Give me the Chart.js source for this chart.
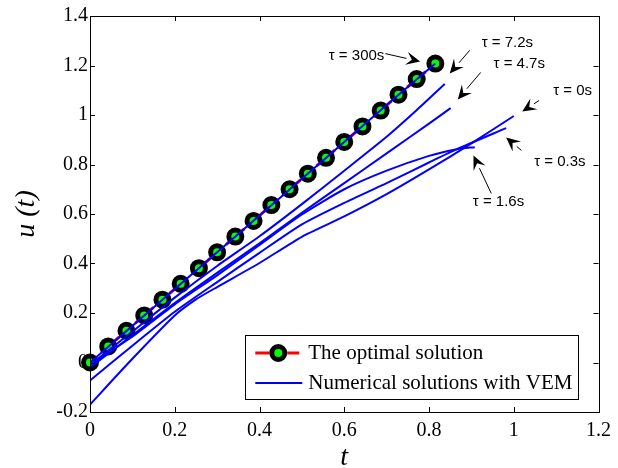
<!DOCTYPE html>
<html><head><meta charset="utf-8">
<script src="https://cdn.jsdelivr.net/npm/chart.js@4.4.0/dist/chart.umd.min.js"></script>
<style>html,body{margin:0;padding:0;background:#fff}</style>
</head><body>
<canvas id="c" width="618" height="468"></canvas>
<script>
// ---- data ----
const optT = [0, 0.043, 0.086, 0.128, 0.171, 0.214, 0.257, 0.3, 0.343, 0.386, 0.428, 0.471, 0.514, 0.557, 0.6, 0.643, 0.686, 0.728, 0.771, 0.815];
const optU = [0, 0.065, 0.128, 0.19, 0.254, 0.318, 0.381, 0.445, 0.509, 0.572, 0.636, 0.7, 0.763, 0.827, 0.891, 0.954, 1.018, 1.082, 1.145, 1.208];

const tau300T = [0, 0.1, 0.2, 0.3, 0.4, 0.5, 0.6, 0.7, 0.815];
const tau300U = [0, 0.148, 0.297, 0.445, 0.594, 0.742, 0.891, 1.04, 1.208];

const tau72T = [0, 0.1, 0.2, 0.3, 0.4, 0.5, 0.6, 0.7, 0.77, 0.837];
const tau72U = [-0.01, 0.125, 0.262, 0.39, 0.51, 0.64, 0.775, 0.912, 1.018, 1.125];

const tau47T = [0, 0.1, 0.2, 0.3, 0.4, 0.5, 0.6, 0.7, 0.8, 0.851];
const tau47U = [-0.02, 0.11, 0.24, 0.362, 0.482, 0.605, 0.725, 0.845, 0.965, 1.028];

const tau16T = [0, 0.1, 0.2, 0.3, 0.4, 0.5, 0.6, 0.7, 0.8, 0.866, 0.908];
const tau16U = [-0.01, 0.105, 0.235, 0.352, 0.475, 0.598, 0.7, 0.775, 0.835, 0.862, 0.87];

const tau03T = [0, 0.1, 0.2, 0.3, 0.4, 0.5, 0.6, 0.7, 0.8, 0.866, 0.982];
const tau03U = [-0.073, 0.068, 0.205, 0.325, 0.443, 0.558, 0.645, 0.725, 0.808, 0.862, 0.947];

const tau0T = [0, 0.1, 0.2, 0.25, 0.3, 0.4, 0.5, 0.6, 0.7, 0.8, 0.9, 1.0];
const tau0U = [-0.17, 0.015, 0.19, 0.255, 0.305, 0.402, 0.508, 0.59, 0.68, 0.78, 0.885, 0.996];

const xTicks = [0, 0.2, 0.4, 0.6, 0.8, 1, 1.2];
const yTicks = [-0.2, 0, 0.2, 0.4, 0.6, 0.8, 1, 1.2, 1.4];

const legendLabels = ['The optimal solution', 'Numerical solutions with VEM'];

// annotation labels: text, label centre (t,u), arrow start (t,u), arrow tip (t,u)
const notes = [
  ['\u03c4 = 300s', 0.629, 1.240, 0.697, 1.248, 0.779, 1.216],
  ['\u03c4 = 7.2s', 0.985, 1.293, 0.896, 1.261, 0.849, 1.168],
  ['\u03c4 = 4.7s', 1.013, 1.208, 0.922, 1.172, 0.868, 1.063],
  ['\u03c4 = 0s', 1.139, 1.099, 1.060, 1.059, 1.020, 1.014],
  ['\u03c4 = 0.3s', 1.109, 0.812, 1.018, 0.857, 0.982, 0.909],
  ['\u03c4 = 1.6s', 0.964, 0.651, 0.947, 0.683, 0.905, 0.836]
];

const pts = (T, U) => T.map((t, i) => ({x: t, y: U[i]}));
const blue = (T, U) => ({data: pts(T, U), borderColor: '#0000ff', borderWidth: 2, pointRadius: 0, fill: false, tension: 0.2, order: 1});

const SERIF = "'Liberation Serif', 'Times New Roman', serif";
const SANS = "'Liberation Sans', Arial, sans-serif";
Chart.defaults.font.family = SERIF;

const framePlugin = {
  id: 'frame',
  afterDatasetsDraw(chart) {
    const {ctx, chartArea: a, scales: {x, y}} = chart;
    ctx.save();
    ctx.strokeStyle = '#000';
    ctx.lineWidth = 1;
    ctx.beginPath();
    const L = 5;
    xTicks.forEach(v => {
      const px = Math.round(x.getPixelForValue(v)) + 0.5;
      ctx.moveTo(px, a.bottom); ctx.lineTo(px, a.bottom - L);
      ctx.moveTo(px, a.top); ctx.lineTo(px, a.top + L);
    });
    yTicks.forEach(v => {
      const py = Math.round(y.getPixelForValue(v)) + 0.5;
      ctx.moveTo(a.left, py); ctx.lineTo(a.left + L, py);
      ctx.moveTo(a.right, py); ctx.lineTo(a.right - L, py);
    });
    ctx.stroke();
    ctx.strokeRect(Math.round(a.left) + 0.5, Math.round(a.top) + 0.5, Math.round(a.right - a.left), Math.round(a.bottom - a.top));
    ctx.restore();
  },
  afterDraw(chart) {
    const {ctx, chartArea: a, scales: {x, y}} = chart;
    ctx.save();
    // annotations
    ctx.font = '15px ' + SANS;
    ctx.fillStyle = '#000';
    ctx.strokeStyle = '#000';
    ctx.textAlign = 'center';
    ctx.textBaseline = 'middle';
    notes.forEach(n => {
      ctx.fillText(n[0], x.getPixelForValue(n[1]), y.getPixelForValue(n[2]));
      const x0 = x.getPixelForValue(n[3]), y0 = y.getPixelForValue(n[4]);
      const x1 = x.getPixelForValue(n[5]), y1 = y.getPixelForValue(n[6]);
      const ang = Math.atan2(y1 - y0, x1 - x0);
      const hl = 14, hw = 6.5;
      const bx = x1 - hl * Math.cos(ang), by = y1 - hl * Math.sin(ang);
      ctx.lineWidth = 1;
      ctx.beginPath(); ctx.moveTo(x0, y0); ctx.lineTo(bx, by); ctx.stroke();
      ctx.beginPath();
      ctx.moveTo(x1, y1);
      ctx.lineTo(bx + hw * Math.sin(ang), by - hw * Math.cos(ang));
      ctx.lineTo(x1 - hl * 0.6 * Math.cos(ang), y1 - hl * 0.6 * Math.sin(ang));
      ctx.lineTo(bx - hw * Math.sin(ang), by + hw * Math.cos(ang));
      ctx.closePath(); ctx.fill();
    });
    // legend
    ctx.font = '21px ' + SERIF;
    const tw = Math.max(...legendLabels.map(s => ctx.measureText(s).width));
    const boxR = a.right - 20, boxB = a.bottom - 13;
    const boxW = 63 + tw + 6, boxH = 64;
    const boxL = boxR - boxW, boxT = boxB - boxH;
    ctx.fillStyle = '#fff';
    ctx.fillRect(boxL, boxT, boxW, boxH);
    ctx.strokeStyle = '#000'; ctx.lineWidth = 1;
    ctx.strokeRect(Math.round(boxL) + 0.5, Math.round(boxT) + 0.5, Math.round(boxW), Math.round(boxH));
    const r1 = boxT + 18, r2 = boxT + 48;
    // red dashed sample with marker
    ctx.strokeStyle = '#ff0000'; ctx.lineWidth = 3;
    ctx.beginPath(); ctx.moveTo(boxL + 10, r1); ctx.lineTo(boxL + 24, r1);
    ctx.moveTo(boxL + 42, r1); ctx.lineTo(boxL + 54, r1); ctx.stroke();
    ctx.beginPath(); ctx.arc(boxL + 33, r1, 6.5, 0, Math.PI * 2);
    ctx.fillStyle = '#00ff00'; ctx.fill();
    ctx.strokeStyle = '#000'; ctx.lineWidth = 5; ctx.stroke();
    // blue sample
    ctx.strokeStyle = '#0000ff'; ctx.lineWidth = 2;
    ctx.beginPath(); ctx.moveTo(boxL + 10, r2); ctx.lineTo(boxL + 57, r2); ctx.stroke();
    ctx.fillStyle = '#000';
    ctx.textAlign = 'left'; ctx.textBaseline = 'middle';
    ctx.fillText(legendLabels[0], boxL + 63, r1);
    ctx.fillText(legendLabels[1], boxL + 63, r2);
    ctx.restore();
  }
};

new Chart(document.getElementById('c'), {
  type: 'line',
  data: {
    datasets: [
      {data: pts(optT, optU), borderColor: '#ff0000', borderWidth: 3, borderDash: [9, 6],
       pointRadius: 6.5, pointBorderWidth: 5, pointBorderColor: '#000', pointBackgroundColor: '#00ff00',
       fill: false, tension: 0, order: 10, clip: false},
      blue(tau300T, tau300U),
      blue(tau72T, tau72U),
      blue(tau47T, tau47U),
      blue(tau16T, tau16U),
      blue(tau03T, tau03U),
      blue(tau0T, tau0U)
    ]
  },
  options: {
    responsive: false,
    devicePixelRatio: 1,
    animation: false,
    events: [],
    layout: {padding: {left: 0, right: 15, top: 16, bottom: 0}},
    plugins: {legend: {display: false}, tooltip: {enabled: false}},
    scales: {
      x: {
        type: 'linear', min: 0, max: 1.2,
        afterBuildTicks: s => { s.ticks = xTicks.map(v => ({value: v})); },
        afterFit: s => { s.height = 56; },
        grid: {display: false, drawTicks: false},
        border: {display: false},
        ticks: {color: '#000', font: {family: SERIF, size: 20}, padding: 7, maxRotation: 0,
                callback: v => String(v)},
        title: {display: true, text: 't', color: '#000', font: {family: SERIF, size: 28, style: 'italic'}, padding: {top: 0, bottom: -6}}
      },
      y: {
        type: 'linear', min: -0.2, max: 1.4,
        afterBuildTicks: s => { s.ticks = yTicks.map(v => ({value: v})); },
        afterFit: s => { s.width = 90; },
        grid: {display: false, drawTicks: false},
        border: {display: false},
        ticks: {color: '#000', font: {family: SERIF, size: 20}, padding: 2,
                callback: v => String(v)},
        title: {display: true, text: 'u (t)', color: '#000', font: {family: SERIF, size: 28, style: 'italic'}, padding: {top: 10, bottom: 0}}
      }
    }
  },
  plugins: [framePlugin]
});
</script>
</body></html>
